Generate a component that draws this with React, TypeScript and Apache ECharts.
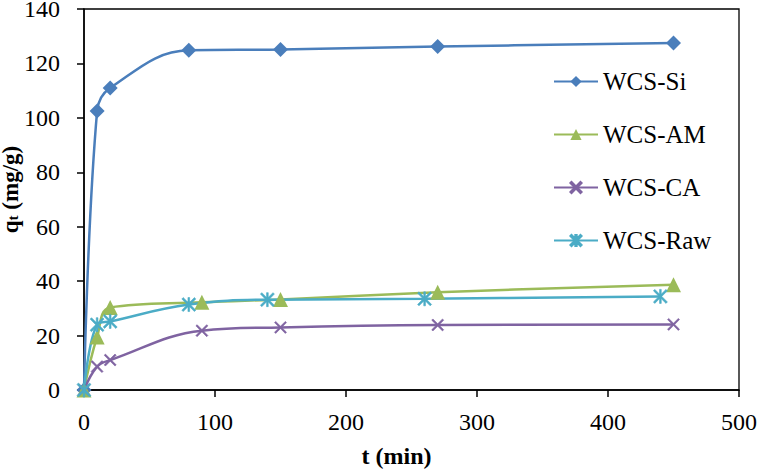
import React, { useEffect, useRef } from "react";
import * as echarts from "echarts";

const siX = [0, 10, 20, 80, 150, 270, 450];
const siY = [0, 102.5, 111, 124.8, 125.1, 126.2, 127.5];
const amX = [0, 10, 20, 90, 150, 270, 450];
const amY = [0, 19.5, 30.3, 32.2, 33.3, 35.9, 38.7];
const caX = [0, 10, 20, 90, 150, 270, 450];
const caY = [0, 8.6, 11, 21.8, 23.0, 23.9, 24.1];
const rawX = [0, 10, 20, 80, 140, 260, 440];
const rawY = [0, 24, 25.2, 31.4, 33.2, 33.5, 34.4];

const seriesNames = ["WCS-Si", "WCS-AM", "WCS-CA", "WCS-Raw"];
const colors = ["#4A7EBB", "#9BBB59", "#7F63A1", "#4BACC6"];

const xPath = "path://M0,1 L1,0 L5,4 L9,0 L10,1 L6,5 L10,9 L9,10 L5,6 L1,10 L0,9 L4,5 Z";
const starPath =
  "path://M0,1 L1,0 L5,4 L9,0 L10,1 L6,5 L10,9 L9,10 L5,6 L1,10 L0,9 L4,5 Z M4.4,0 L5.6,0 L5.6,10 L4.4,10 Z";

const FONT = "Liberation Serif";

function zip(xs: number[], ys: number[]) {
  return xs.map((x, i) => [x, ys[i]]);
}

export default function App() {
  const ref = useRef<HTMLDivElement>(null);
  useEffect(() => {
    if (!ref.current) return;
    const chart = echarts.init(ref.current, null, { renderer: "svg" });
    const mk = (name: string, data: number[][], color: string, symbol: string, size: number) => ({
      name,
      type: "line",
      data,
      smooth: 0.4,
      symbol,
      symbolSize: size,
      showSymbol: true,
      lineStyle: { color, width: 2.5 },
      itemStyle: { color, borderColor: color, borderWidth: symbol.startsWith("path") ? 0.6 : 0 },
      z: 2,
    });
    chart.setOption({
      animation: false,
      backgroundColor: "#fff",
      textStyle: { fontFamily: FONT },
      grid: {
        left: 84,
        right: 18,
        top: 9,
        bottom: 82,
        show: true,
        borderColor: "#000",
        borderWidth: 1.3,
        containLabel: false,
        outerBoundsMode: "none",
      },
      legend: {
        orient: "vertical",
        left: 548,
        top: 64,
        itemWidth: 44,
        itemHeight: 14,
        itemGap: 28,
        data: seriesNames,
        textStyle: { fontFamily: FONT, fontSize: 25, color: "#000" },
      },
      xAxis: {
        type: "value",
        min: 0,
        max: 500,
        interval: 100,
        name: "t (min)",
        nameLocation: "middle",
        nameGap: 54,
        nameMoveOverlap: false,
        nameTextStyle: {
          fontFamily: FONT,
          fontSize: 24,
          fontWeight: "bold",
          color: "#000",
          padding: [0, 30, 0, 0],
        },
        axisLine: { lineStyle: { color: "#000", width: 1.5 } },
        axisTick: { show: true, inside: false, length: 7, lineStyle: { color: "#000", width: 1.5 } },
        axisLabel: { fontFamily: FONT, fontSize: 24, color: "#000", margin: 20 },
        splitLine: { show: false },
      },
      yAxis: {
        type: "value",
        min: 0,
        max: 140,
        interval: 20,
        name: "{q|q}{s|t}{q| (mg/g)}",
        nameLocation: "middle",
        nameGap: 64,
        nameMoveOverlap: false,
        nameTextStyle: {
          color: "#000",
          lineHeight: 20,
          padding: [0, 0, 0, 20],
          rich: {
            q: { fontFamily: FONT, fontSize: 23, fontWeight: "bold", color: "#000", lineHeight: 20 },
            s: {
              fontFamily: FONT,
              fontSize: 15,
              fontWeight: "bold",
              color: "#000",
              lineHeight: 20,
              verticalAlign: "bottom",
            },
          },
        },
        axisLine: { show: true, lineStyle: { color: "#000", width: 1.5 } },
        axisTick: { show: true, inside: false, length: 7, lineStyle: { color: "#000", width: 1.5 } },
        axisLabel: { fontFamily: FONT, fontSize: 24, color: "#000", margin: 24, lineHeight: 18 },
        splitLine: { show: false },
      },
      series: [
        mk(seriesNames[0], zip(siX, siY), colors[0], "diamond", 15),
        mk(seriesNames[1], zip(amX, amY), colors[1], "triangle", 15),
        mk(seriesNames[2], zip(caX, caY), colors[2], xPath, 12),
        mk(seriesNames[3], zip(rawX, rawY), colors[3], starPath, 14),
      ],
    });
    return () => chart.dispose();
  }, []);
  return (
    <div
      ref={ref}
      style={{ position: "absolute", left: 0, top: 0, width: 757, height: 472 }}
    />
  );
}
